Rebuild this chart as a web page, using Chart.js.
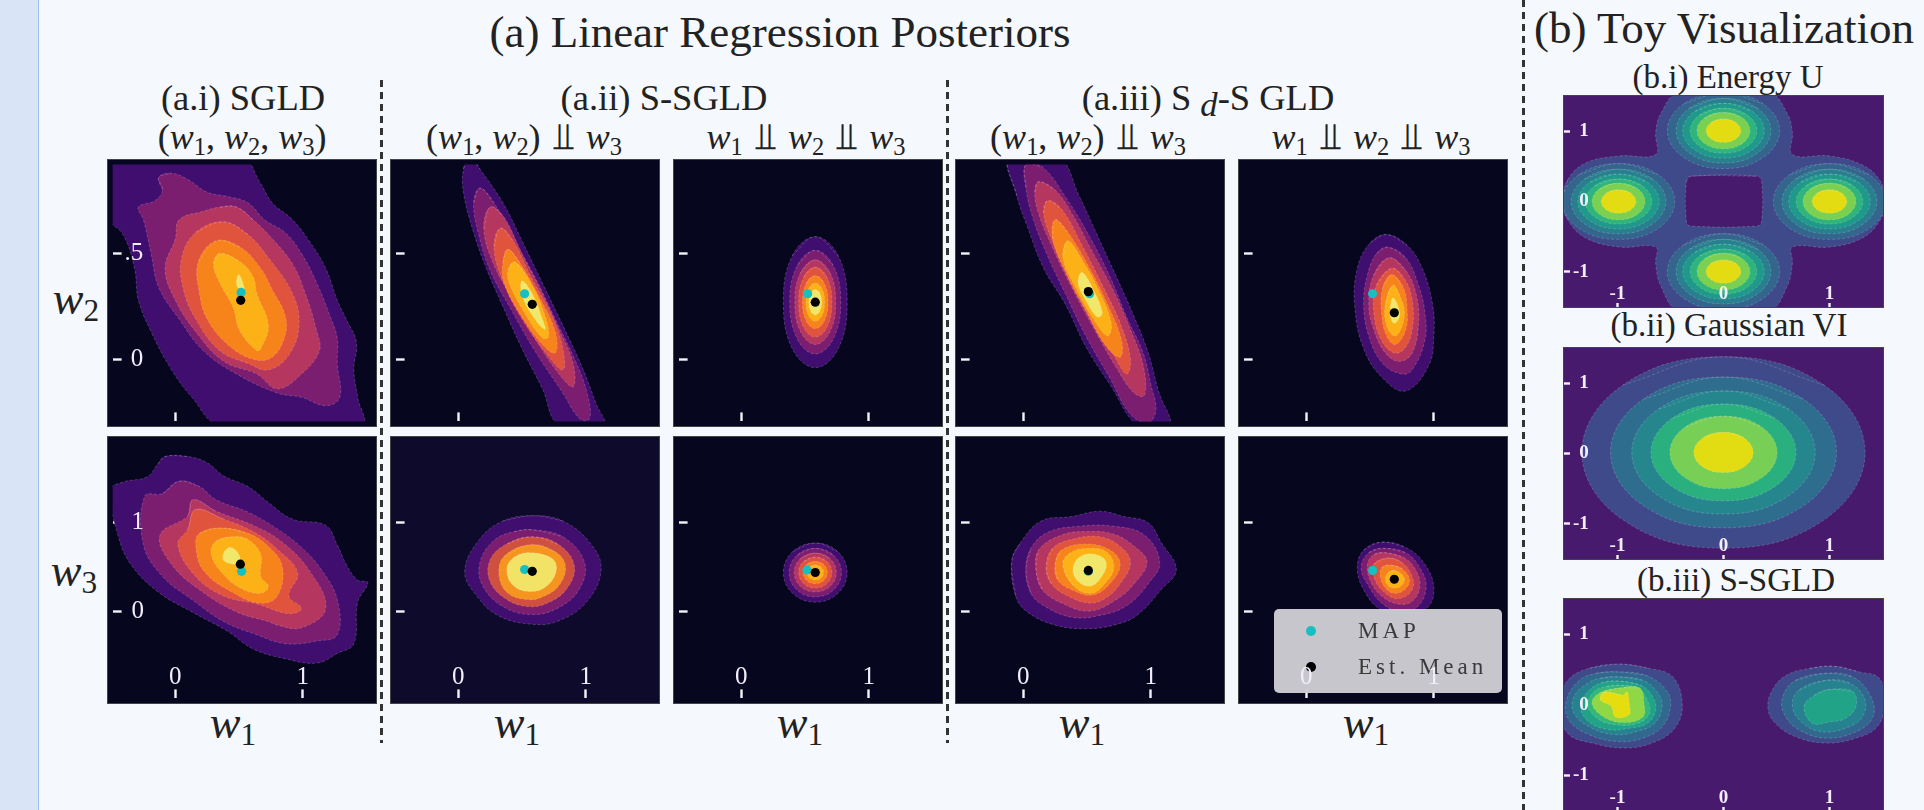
<!DOCTYPE html>
<html>
<head>
<meta charset="utf-8">
<title>Linear Regression Posteriors</title>
<script src="https://cdn.jsdelivr.net/npm/chart.js@4"></script>
<style>
html, body { margin: 0; padding: 0; width: 1924px; height: 810px; overflow: hidden; background: #f5f8fc; }
#strip { position: absolute; left: 0; top: 0; width: 38px; height: 810px; background: #d9e5f6; border-right: 1px solid #9bbcf0; }
canvas { position: absolute; box-shadow: 0 0 0 1px #444; }
.t { position: absolute; transform: translate(-50%, -50%); white-space: nowrap; color: #222; font-family: "Liberation Serif", serif; }
.t i { font-style: italic; }
.t sub { font-size: 0.68em; line-height: 0; vertical-align: -0.25em; }
.h1 { font-size: 45px; }
.h2 { font-size: 36.5px; }
.h3 { font-size: 36px; }
.h4 { font-size: 33px; }
.lab { font-size: 46px; }
.up { font-family: "DejaVu Sans", sans-serif; font-size: 1.05em; line-height: 0; margin: 0 0.08em; }
.t sub.idx { font-size: 0.95em; vertical-align: -0.2em; }
.vd { position: absolute; width: 3px; background: repeating-linear-gradient(to bottom, #333 0 7px, transparent 7px 12px); }
</style>
</head>
<body>
<div id="strip"></div>

<div class="t h1" style="left:780px;top:32px">(a) Linear Regression Posteriors</div>
<div class="t h1" style="left:1724px;top:28px">(b) Toy Visualization</div>

<div class="t h2" style="left:243px;top:97px">(a.i) SGLD</div>
<div class="t h3" style="left:242px;top:137px">(<i>w</i><sub>1</sub>, <i>w</i><sub>2</sub>, <i>w</i><sub>3</sub>)</div>
<div class="t h2" style="left:664px;top:97px">(a.ii) S-SGLD</div>
<div class="t h3" style="left:524px;top:137px">(<i>w</i><sub>1</sub>, <i>w</i><sub>2</sub>) <span class="up">⫫</span> <i>w</i><sub>3</sub></div>
<div class="t h3" style="left:806px;top:137px"><i>w</i><sub>1</sub> <span class="up">⫫</span> <i>w</i><sub>2</sub> <span class="up">⫫</span> <i>w</i><sub>3</sub></div>
<div class="t h2" style="left:1208px;top:97px">(a.iii) S <sub class="idx"><i>d</i></sub>-S GLD</div>
<div class="t h3" style="left:1088px;top:137px">(<i>w</i><sub>1</sub>, <i>w</i><sub>2</sub>) <span class="up">⫫</span> <i>w</i><sub>3</sub></div>
<div class="t h3" style="left:1371px;top:137px"><i>w</i><sub>1</sub> <span class="up">⫫</span> <i>w</i><sub>2</sub> <span class="up">⫫</span> <i>w</i><sub>3</sub></div>

<div class="t lab" style="left:76px;top:298px"><i>w</i><sub>2</sub></div>
<div class="t lab" style="left:74px;top:570px"><i>w</i><sub>3</sub></div>
<div class="t lab" style="left:233px;top:722px"><i>w</i><sub>1</sub></div>
<div class="t lab" style="left:517px;top:722px"><i>w</i><sub>1</sub></div>
<div class="t lab" style="left:800px;top:722px"><i>w</i><sub>1</sub></div>
<div class="t lab" style="left:1082px;top:722px"><i>w</i><sub>1</sub></div>
<div class="t lab" style="left:1366px;top:722px"><i>w</i><sub>1</sub></div>

<div class="t h4" style="left:1728px;top:77px">(b.i) Energy U</div>
<div class="t h4" style="left:1729px;top:325px">(b.ii) Gaussian VI</div>
<div class="t h4" style="left:1736px;top:580px">(b.iii) S-SGLD</div>

<div class="vd" style="left:380px;top:80px;height:663px"></div>
<div class="vd" style="left:946px;top:80px;height:663px"></div>
<div class="vd" style="left:1522px;top:0;height:810px"></div>

<script>
/**
 * Tick values and their labels.
 */
const posteriorXTicks = [0, 1];
const posteriorXLabels = ['0', '1'];
const topYTicks = [0, 0.5];
const topYLabels = ['0', '.5'];
const bottomYTicks = [0, 1];
const bottomYLabels = ['0', '1'];
const toyTicks = [-1, 0, 1];
const toyLabels = ['-1', '0', '1'];

/**
 * Legend entries.
 */
const seriesNames = ['MAP', 'Est. Mean'];

/**
 * Contour outlines, outermost level first, as [w1, w2] or [w1, w3] pairs.
 */
const sgldW2 = [
    [[-0.55,0.96],[0.51,0.96],[0.67,0.83],[0.76,0.74],[0.92,0.66],[1.05,0.56],[1.18,0.43],[1.27,0.28],[1.34,0.19],[1.42,0.08],[1.40,-0.05],[1.43,-0.18],[1.46,-0.31],[0.35,-0.31],[0.13,-0.18],[-0.03,-0.05],[-0.19,0.13],[-0.29,0.28],[-0.32,0.43],[-0.41,0.59],[-0.55,0.68]],
    [[-0.13,0.86],[-0.03,0.88],[0.10,0.85],[0.25,0.79],[0.41,0.77],[0.57,0.74],[0.70,0.66],[0.86,0.60],[0.99,0.50],[1.11,0.36],[1.21,0.21],[1.27,0.10],[1.27,-0.02],[1.29,-0.18],[1.18,-0.22],[0.99,-0.18],[0.80,-0.16],[0.48,-0.07],[0.22,0.04],[0.03,0.19],[-0.13,0.34],[-0.19,0.50],[-0.25,0.66],[-0.29,0.72],[-0.16,0.75],[-0.10,0.80]],
    [[0.48,0.72],[0.61,0.66],[0.73,0.59],[0.92,0.45],[1.02,0.31],[1.11,0.13],[1.13,0.04],[0.99,-0.07],[0.80,-0.14],[0.64,-0.07],[0.38,-0.01],[0.16,0.13],[0.00,0.28],[-0.08,0.43],[0.00,0.57],[0.03,0.66],[0.22,0.70],[0.35,0.72]],
    [[0.38,0.65],[0.57,0.59],[0.73,0.48],[0.92,0.31],[0.97,0.16],[0.89,0.02],[0.73,-0.05],[0.57,-0.02],[0.35,0.04],[0.16,0.19],[0.06,0.34],[0.05,0.48],[0.16,0.60]],
    [[0.32,0.56],[0.51,0.53],[0.67,0.43],[0.76,0.33],[0.86,0.21],[0.86,0.11],[0.76,0.01],[0.61,0.00],[0.41,0.07],[0.25,0.19],[0.19,0.31],[0.18,0.46]],
    [[0.35,0.50],[0.51,0.46],[0.61,0.39],[0.64,0.31],[0.73,0.16],[0.67,0.05],[0.64,0.04],[0.51,0.13],[0.45,0.25],[0.35,0.36],[0.30,0.45]],
    [[0.50,0.40],[0.54,0.33],[0.49,0.34],[0.48,0.37]]
];
const sgldW3 = [
    [[-0.08,1.75],[0.10,1.75],[0.25,1.68],[0.38,1.53],[0.57,1.41],[0.73,1.23],[0.92,1.04],[1.18,0.97],[1.27,0.75],[1.34,0.53],[1.43,0.35],[1.51,0.32],[1.43,0.10],[1.40,-0.37],[1.27,-0.48],[1.11,-0.59],[0.86,-0.54],[0.61,-0.43],[0.41,-0.23],[0.13,-0.01],[-0.13,0.21],[-0.35,0.53],[-0.45,0.86],[-0.51,1.37],[-0.41,1.46],[-0.22,1.52],[-0.14,1.66]],
    [[0.03,1.47],[0.19,1.41],[0.32,1.26],[0.57,1.12],[0.80,0.93],[0.99,0.72],[1.15,0.46],[1.27,0.13],[1.27,-0.27],[1.11,-0.34],[0.86,-0.37],[0.64,-0.27],[0.38,-0.12],[0.13,0.13],[-0.10,0.39],[-0.25,0.75],[-0.24,1.30],[-0.10,1.33]],
    [[0.14,1.26],[0.32,1.13],[0.61,0.97],[0.83,0.79],[1.05,0.46],[1.18,0.03],[0.99,-0.19],[0.80,-0.16],[0.73,-0.12],[0.48,-0.01],[0.19,0.24],[-0.03,0.53],[-0.12,0.86],[0.10,1.08]],
    [[0.16,1.15],[0.38,1.04],[0.61,0.90],[0.80,0.70],[0.96,0.43],[0.89,0.17],[0.99,0.03],[0.89,-0.03],[0.64,0.08],[0.38,0.17],[0.16,0.39],[0.02,0.75],[0.10,0.93]],
    [[0.35,0.94],[0.57,0.88],[0.73,0.73],[0.84,0.50],[0.80,0.17],[0.67,0.09],[0.45,0.21],[0.22,0.46],[0.16,0.75],[0.19,0.88]],
    [[0.45,0.84],[0.57,0.81],[0.67,0.64],[0.67,0.39],[0.73,0.28],[0.67,0.20],[0.51,0.26],[0.35,0.46],[0.28,0.66],[0.32,0.79]],
    [[0.43,0.72],[0.49,0.66],[0.51,0.57],[0.48,0.53],[0.38,0.57],[0.38,0.66]]
];
const ssgldPairW2 = [
    [[0.09,0.96],[0.17,0.90],[0.35,0.74],[0.50,0.56],[0.66,0.36],[0.82,0.16],[0.98,-0.05],[1.08,-0.21],[1.14,-0.31],[0.79,-0.31],[0.66,-0.14],[0.50,0.05],[0.35,0.25],[0.22,0.43],[0.12,0.60],[0.04,0.79],[0.04,0.90]],
    [[0.17,0.81],[0.28,0.74],[0.44,0.56],[0.60,0.39],[0.76,0.19],[0.92,-0.01],[1.01,-0.16],[1.03,-0.28],[0.95,-0.28],[0.82,-0.16],[0.60,0.04],[0.41,0.24],[0.25,0.42],[0.16,0.59],[0.12,0.74]],
    [[0.25,0.72],[0.35,0.68],[0.50,0.50],[0.66,0.31],[0.79,0.14],[0.90,-0.02],[0.90,-0.13],[0.79,-0.07],[0.60,0.10],[0.41,0.30],[0.27,0.46],[0.20,0.62]],
    [[0.33,0.62],[0.43,0.56],[0.57,0.39],[0.73,0.21],[0.82,0.05],[0.82,-0.05],[0.70,0.02],[0.50,0.19],[0.35,0.37],[0.28,0.53]],
    [[0.39,0.52],[0.49,0.45],[0.63,0.30],[0.76,0.13],[0.76,0.03],[0.66,0.07],[0.49,0.21],[0.36,0.36],[0.35,0.46]],
    [[0.44,0.46],[0.54,0.39],[0.66,0.24],[0.71,0.11],[0.66,0.10],[0.50,0.24],[0.40,0.36],[0.39,0.42]],
    [[0.50,0.37],[0.58,0.31],[0.66,0.19],[0.68,0.14],[0.60,0.19],[0.50,0.30]]
];
const ssgldPairW3 = [
    [[0.59,1.08],[0.82,1.02],[1.04,0.76],[1.12,0.47],[1.01,0.11],[0.79,-0.11],[0.58,-0.15],[0.31,-0.05],[0.14,0.18],[0.05,0.45],[0.16,0.80],[0.35,1.02]],
    [[0.58,0.92],[0.82,0.84],[0.99,0.55],[0.95,0.25],[0.79,0.04],[0.58,-0.04],[0.35,0.05],[0.19,0.29],[0.17,0.55],[0.28,0.80],[0.44,0.90]],
    [[0.58,0.84],[0.79,0.75],[0.91,0.51],[0.85,0.25],[0.70,0.09],[0.55,0.05],[0.38,0.13],[0.25,0.33],[0.25,0.58],[0.38,0.76]],
    [[0.57,0.75],[0.76,0.67],[0.84,0.51],[0.79,0.29],[0.66,0.16],[0.54,0.13],[0.39,0.20],[0.32,0.40],[0.36,0.62]],
    [[0.55,0.66],[0.73,0.60],[0.77,0.47],[0.70,0.29],[0.57,0.22],[0.43,0.29],[0.38,0.47],[0.43,0.60]]
];
const ssgldFullW2 = [
    [[0.58,0.58],[0.76,0.49],[0.83,0.27],[0.76,0.05],[0.58,-0.04],[0.40,0.05],[0.33,0.27],[0.40,0.49]],
    [[0.58,0.515],[0.72,0.445],[0.78,0.27],[0.72,0.095],[0.58,0.025],[0.44,0.095],[0.38,0.27],[0.44,0.445]],
    [[0.58,0.47],[0.695,0.41],[0.74,0.27],[0.695,0.13],[0.58,0.07],[0.465,0.13],[0.42,0.27],[0.465,0.41]],
    [[0.58,0.435],[0.67,0.39],[0.71,0.27],[0.67,0.15],[0.58,0.105],[0.49,0.15],[0.45,0.27],[0.49,0.39]],
    [[0.58,0.395],[0.65,0.36],[0.68,0.27],[0.65,0.18],[0.58,0.145],[0.51,0.18],[0.48,0.27],[0.51,0.36]],
    [[0.58,0.36],[0.632,0.334],[0.653,0.27],[0.632,0.206],[0.58,0.18],[0.528,0.206],[0.507,0.27],[0.528,0.334]],
    [[0.58,0.33],[0.615,0.313],[0.63,0.27],[0.615,0.227],[0.58,0.21],[0.545,0.227],[0.53,0.27],[0.545,0.313]]
];
const ssgldFullW3 = [
    [[0.58,0.77],[0.757,0.673],[0.83,0.436],[0.757,0.2],[0.58,0.10],[0.403,0.2],[0.33,0.436],[0.403,0.673]],
    [[0.58,0.71],[0.725,0.63],[0.785,0.436],[0.725,0.24],[0.58,0.16],[0.435,0.24],[0.375,0.436],[0.435,0.63]],
    [[0.58,0.656],[0.697,0.592],[0.745,0.436],[0.697,0.28],[0.58,0.216],[0.463,0.28],[0.415,0.436],[0.463,0.592]],
    [[0.58,0.61],[0.672,0.56],[0.71,0.436],[0.672,0.312],[0.58,0.26],[0.488,0.312],[0.45,0.436],[0.488,0.56]],
    [[0.58,0.56],[0.647,0.526],[0.675,0.436],[0.647,0.346],[0.58,0.31],[0.513,0.346],[0.485,0.436],[0.513,0.526]],
    [[0.58,0.52],[0.626,0.496],[0.645,0.436],[0.626,0.376],[0.58,0.35],[0.534,0.376],[0.515,0.436],[0.534,0.496]]
];
const sdPairW2 = [
    [[-0.11,0.96],[0.27,0.96],[0.44,0.77],[0.57,0.60],[0.73,0.39],[0.87,0.20],[0.98,0.03],[1.06,-0.15],[1.15,-0.32],[0.91,-0.32],[0.68,-0.12],[0.49,0.06],[0.33,0.26],[0.16,0.43],[0.03,0.63],[-0.05,0.77]],
    [[0.02,0.92],[0.15,0.91],[0.35,0.75],[0.52,0.58],[0.68,0.39],[0.81,0.20],[0.94,0.03],[1.00,-0.12],[1.04,-0.24],[0.98,-0.30],[0.84,-0.26],[0.68,-0.09],[0.49,0.11],[0.33,0.31],[0.19,0.49],[0.08,0.66],[0.02,0.81]],
    [[0.12,0.84],[0.25,0.80],[0.38,0.69],[0.54,0.51],[0.71,0.32],[0.84,0.14],[0.94,-0.03],[0.95,-0.17],[0.87,-0.16],[0.73,-0.04],[0.54,0.16],[0.38,0.34],[0.22,0.54],[0.12,0.69],[0.09,0.79]],
    [[0.19,0.75],[0.30,0.71],[0.46,0.54],[0.62,0.35],[0.76,0.17],[0.84,0.00],[0.81,-0.07],[0.71,0.02],[0.52,0.22],[0.35,0.40],[0.22,0.57],[0.16,0.69]],
    [[0.25,0.66],[0.35,0.60],[0.52,0.43],[0.66,0.26],[0.77,0.09],[0.76,0.01],[0.65,0.06],[0.49,0.23],[0.34,0.40],[0.23,0.57]],
    [[0.35,0.56],[0.45,0.48],[0.58,0.34],[0.69,0.17],[0.66,0.11],[0.54,0.20],[0.41,0.34],[0.31,0.48]],
    [[0.46,0.41],[0.54,0.34],[0.62,0.22],[0.58,0.20],[0.48,0.29],[0.43,0.36]]
];
const sdPairW3 = [
    [[-0.09,0.57],[-0.02,0.78],[0.14,1.02],[0.38,1.07],[0.60,1.13],[0.79,1.07],[0.98,1.00],[1.08,0.78],[1.20,0.47],[1.08,0.24],[0.89,-0.05],[0.71,-0.16],[0.49,-0.20],[0.25,-0.16],[0.03,-0.01],[-0.06,0.17]],
    [[0.02,0.46],[0.06,0.71],[0.19,0.89],[0.44,0.96],[0.71,0.96],[0.95,0.86],[1.07,0.55],[0.98,0.31],[0.81,0.06],[0.60,-0.05],[0.38,-0.07],[0.16,0.06],[0.06,0.20]],
    [[0.10,0.46],[0.12,0.69],[0.30,0.86],[0.49,0.90],[0.71,0.87],[0.89,0.71],[0.97,0.55],[0.87,0.31],[0.73,0.13],[0.52,0.00],[0.30,0.09],[0.15,0.24]],
    [[0.18,0.49],[0.23,0.71],[0.41,0.82],[0.60,0.84],[0.76,0.73],[0.84,0.55],[0.76,0.31],[0.65,0.15],[0.52,0.09],[0.35,0.17],[0.22,0.31]],
    [[0.25,0.53],[0.30,0.69],[0.49,0.76],[0.68,0.69],[0.76,0.53],[0.68,0.31],[0.54,0.18],[0.38,0.24],[0.27,0.35]],
    [[0.31,0.53],[0.37,0.66],[0.53,0.71],[0.66,0.66],[0.71,0.49],[0.64,0.31],[0.53,0.20],[0.39,0.29]],
    [[0.39,0.49],[0.45,0.62],[0.57,0.64],[0.65,0.55],[0.61,0.38],[0.52,0.28],[0.42,0.35]]
];
const sdFullW2 = [
    [[0.63,0.59],[0.79,0.54],[0.91,0.43],[0.99,0.26],[1.00,0.11],[0.96,-0.03],[0.78,-0.15],[0.60,-0.09],[0.45,0.05],[0.38,0.25],[0.40,0.43],[0.50,0.55]],
    [[0.64,0.53],[0.78,0.48],[0.88,0.35],[0.93,0.22],[0.93,0.09],[0.83,-0.05],[0.75,-0.07],[0.60,-0.02],[0.49,0.11],[0.45,0.26],[0.48,0.40],[0.55,0.50]],
    [[0.65,0.48],[0.78,0.42],[0.86,0.31],[0.88,0.17],[0.83,0.03],[0.73,-0.01],[0.62,0.03],[0.53,0.14],[0.49,0.26],[0.53,0.40]],
    [[0.67,0.43],[0.77,0.38],[0.83,0.28],[0.83,0.14],[0.77,0.05],[0.69,0.03],[0.59,0.09],[0.53,0.22],[0.55,0.35]],
    [[0.67,0.40],[0.76,0.34],[0.79,0.24],[0.78,0.14],[0.70,0.07],[0.63,0.11],[0.59,0.22],[0.60,0.34]],
    [[0.68,0.35],[0.74,0.29],[0.77,0.22],[0.74,0.14],[0.69,0.11],[0.63,0.16],[0.62,0.26]],
    [[0.68,0.29],[0.72,0.25],[0.73,0.20],[0.69,0.17],[0.66,0.20],[0.66,0.25]]
];
const sdFullW3 = [
    [[0.59,0.78],[0.78,0.72],[0.93,0.53],[1.00,0.26],[0.95,0.04],[0.78,-0.03],[0.58,0.02],[0.45,0.24],[0.40,0.49],[0.45,0.69]],
    [[0.60,0.71],[0.78,0.66],[0.89,0.49],[0.94,0.28],[0.88,0.06],[0.75,-0.01],[0.60,0.08],[0.49,0.28],[0.43,0.49],[0.49,0.66]],
    [[0.62,0.66],[0.77,0.60],[0.86,0.46],[0.89,0.28],[0.83,0.11],[0.72,0.08],[0.59,0.17],[0.50,0.35],[0.48,0.53],[0.53,0.64]],
    [[0.64,0.60],[0.75,0.55],[0.83,0.39],[0.83,0.24],[0.73,0.14],[0.63,0.19],[0.54,0.35],[0.53,0.53]],
    [[0.65,0.52],[0.75,0.48],[0.81,0.35],[0.77,0.24],[0.69,0.20],[0.62,0.26],[0.58,0.39],[0.59,0.49]],
    [[0.69,0.46],[0.75,0.41],[0.77,0.35],[0.74,0.28],[0.69,0.26],[0.64,0.29],[0.62,0.37],[0.64,0.43]]
];

/**
 * MAP and estimated mean for each posterior panel, [w1, w].
 */
const mapPoints = [[0.516,0.316],[0.52,0.31],[0.52,0.31],[0.52,0.31],[0.52,0.31],[0.52,0.45],[0.52,0.47],[0.515,0.465],[0.51,0.45],[0.52,0.46]];
const meanPoints = [[0.513,0.279],[0.58,0.26],[0.58,0.27],[0.51,0.32],[0.69,0.22],[0.51,0.53],[0.58,0.45],[0.58,0.436],[0.51,0.46],[0.69,0.36]];

/**
 * Toy energy: merged outline, central hole, then the rings of one lobe around its centre.
 */
const energyOutline = [[-1.52,0.00],[-1.47,-0.26],[-1.30,-0.52],[-0.98,-0.65],[-0.64,-0.65],[-0.64,-0.88],[-0.59,-1.21],[-0.42,-1.55],[0.43,-1.55],[0.60,-1.21],[0.65,-0.88],[0.65,-0.65],[1.00,-0.65],[1.31,-0.52],[1.48,-0.26],[1.52,0.00],[1.48,0.29],[1.31,0.52],[1.00,0.65],[0.65,0.67],[0.65,0.98],[0.60,1.26],[0.43,1.55],[-0.42,1.55],[-0.59,1.26],[-0.64,0.98],[-0.64,0.67],[-0.98,0.65],[-1.30,0.55],[-1.47,0.31]];
const energyHole = [[-0.31,0.36],[0.32,0.36],[0.36,0.29],[0.36,-0.29],[0.32,-0.35],[-0.31,-0.35],[-0.35,-0.29],[-0.35,0.29]];
const lobeCenters = [[0,1.01],[0,-1.0],[-0.99,0],[1.0,0]];
const lobeRings = [
    [[0,0.54],[0.375,0.382],[0.53,0],[0.375,-0.382],[0,-0.54],[-0.375,-0.382],[-0.53,0],[-0.375,0.382]],
    [[0,0.46],[0.316,0.325],[0.447,0],[0.316,-0.325],[0,-0.46],[-0.316,-0.325],[-0.447,0],[-0.316,0.325]],
    [[0,0.39],[0.27,0.276],[0.384,0],[0.27,-0.276],[0,-0.39],[-0.27,-0.276],[-0.384,0],[-0.27,0.276]],
    [[0,0.32],[0.222,0.226],[0.314,0],[0.222,-0.226],[0,-0.32],[-0.222,-0.226],[-0.314,0],[-0.222,0.226]],
    [[0,0.26],[0.177,0.184],[0.25,0],[0.177,-0.184],[0,-0.26],[-0.177,-0.184],[-0.25,0],[-0.177,0.184]],
    [[0,0.167],[0.116,0.118],[0.164,0],[0.116,-0.118],[0,-0.167],[-0.116,-0.118],[-0.164,0],[-0.116,0.118]]
];

const gaussianVi = [
    [[0,1.38],[0.945,0.98],[1.336,0.015],[0.945,-0.95],[0,-1.35],[-0.945,-0.95],[-1.336,0.015],[-0.945,0.98]],
    [[0,1.09],[0.754,0.776],[1.066,0.015],[0.754,-0.746],[0,-1.06],[-0.754,-0.746],[-1.066,0.015],[-0.754,0.776]],
    [[0,0.892],[0.612,0.635],[0.865,0.015],[0.612,-0.605],[0,-0.862],[-0.612,-0.605],[-0.865,0.015],[-0.612,0.635]],
    [[0,0.705],[0.484,0.503],[0.684,0.015],[0.484,-0.473],[0,-0.675],[-0.484,-0.473],[-0.684,0.015],[-0.484,0.503]],
    [[0,0.532],[0.358,0.381],[0.506,0.015],[0.358,-0.351],[0,-0.502],[-0.358,-0.351],[-0.506,0.015],[-0.358,0.381]],
    [[0,0.302],[0.198,0.218],[0.28,0.015],[0.198,-0.188],[0,-0.272],[-0.198,-0.188],[-0.28,0.015],[-0.198,0.218]]
];

const toySgldLeft = [
    [[-0.98,0.58],[-0.70,0.52],[-0.48,0.40],[-0.39,0.02],[-0.45,-0.31],[-0.64,-0.52],[-0.92,-0.61],[-1.24,-0.54],[-1.47,-0.40],[-1.55,0.00],[-1.47,0.35],[-1.27,0.52]],
    [[-1.00,0.47],[-0.73,0.42],[-0.54,0.21],[-0.50,-0.02],[-0.58,-0.31],[-0.76,-0.47],[-0.98,-0.52],[-1.27,-0.42],[-1.46,-0.21],[-1.48,0.07],[-1.36,0.35],[-1.20,0.45]],
    [[-1.00,0.40],[-0.76,0.35],[-0.62,0.17],[-0.58,-0.02],[-0.65,-0.26],[-0.83,-0.38],[-1.02,-0.42],[-1.24,-0.33],[-1.41,-0.12],[-1.41,0.12],[-1.28,0.31],[-1.16,0.38]],
    [[-1.00,0.34],[-0.78,0.28],[-0.67,0.12],[-0.64,-0.07],[-0.72,-0.26],[-0.89,-0.33],[-1.08,-0.35],[-1.27,-0.24],[-1.35,-0.02],[-1.28,0.19],[-1.16,0.31]],
    [[-0.98,0.28],[-0.81,0.24],[-0.72,0.07],[-0.70,-0.12],[-0.81,-0.26],[-1.02,-0.28],[-1.19,-0.19],[-1.28,0.00],[-1.22,0.19],[-1.11,0.26]],
    [[-0.98,0.24],[-0.79,0.24],[-0.75,0.02],[-0.76,-0.17],[-0.94,-0.25],[-1.13,-0.17],[-1.24,0.02],[-1.17,0.17]],
    [[-1.13,0.18],[-0.95,0.14],[-0.91,0.19],[-0.89,0.02],[-0.89,-0.14],[-1.02,-0.17],[-1.06,-0.02],[-1.16,0.07]]
];
const toySgldRight = [
    [[1.04,0.55],[1.28,0.47],[1.47,0.38],[1.52,0.02],[1.45,-0.31],[1.25,-0.47],[0.97,-0.54],[0.68,-0.45],[0.49,-0.26],[0.42,-0.05],[0.46,0.21],[0.59,0.42],[0.81,0.52]],
    [[0.97,0.45],[1.22,0.40],[1.39,0.12],[1.41,-0.17],[1.25,-0.38],[0.97,-0.47],[0.71,-0.35],[0.57,-0.12],[0.56,0.12],[0.68,0.35]],
    [[0.97,0.35],[1.19,0.31],[1.33,0.09],[1.31,-0.17],[1.15,-0.33],[0.93,-0.38],[0.75,-0.26],[0.65,-0.02],[0.71,0.21]],
    [[1.00,0.22],[1.22,0.19],[1.25,-0.02],[1.15,-0.19],[1.00,-0.24],[0.84,-0.26],[0.76,-0.02],[0.86,0.14]]
];

/**
 * Colours of the filled levels.
 */
const inferno = ['#3f0e6e', '#7b1e6f', '#b5365f', '#e0533c', '#f6841b', '#fcb216', '#f1e76b'];
const infernoFive = ['#3f0e6e', '#7b1e6f', '#d0503f', '#f5941e', '#f2e265'];
const viridisBg = '#471a6e';
const energyShades = ['#33658d', '#28808e', '#1f9a8a', '#2fb47c', '#7ad151', '#e3dc12'];
const viShades = ['#3e4a89', '#2f6d8e', '#25868e', '#2ab07f', '#78cf55', '#e2dc12'];
const toyLeftShades = ['#3e4a89', '#31688e', '#26828e', '#20a386', '#35b779', '#8fd744', '#e5dd10'];
const toyRightShades = ['#3e4a89', '#31688e', '#26828e', '#20a386'];

const contourDataset = (points, color, order) => ({
    // повторяем точки, чтобы кривая замкнулась без излома
    data: [points[points.length - 1], ...points, points[0], points[1]].map(([x, y]) => ({ x, y })),
    showLine: true,
    fill: 'shape',
    backgroundColor: color,
    borderColor: 'rgba(255, 235, 255, 0.25)',
    borderWidth: 0.8,
    borderDash: [3, 2],
    tension: 0.4,
    capBezierPoints: false,
    pointRadius: 0,
    order
});

const levelDatasets = (levels, shades) => levels.map((points, i) => contourDataset(points, shades[i], 100 - i));

const markerDataset = (point, color, order) => ({
    data: [{ x: point[0], y: point[1] }],
    pointRadius: 4.6,
    pointBackgroundColor: color,
    pointBorderWidth: 0,
    showLine: false,
    order
});

const MAP_COLOR = '#17bfc0';
const MEAN_COLOR = '#000000';

const posteriorDatasets = (levels, shades, i) => [
    ...levelDatasets(levels, shades),
    markerDataset(mapPoints[i], MAP_COLOR, 2),
    markerDataset(meanPoints[i], MEAN_COLOR, 1)
];

const energyDatasets = () => {
    const sets = [contourDataset(energyOutline, '#3e4a89', 100), contourDataset(energyHole, viridisBg, 99)];
    lobeCenters.forEach(([cx, cy]) => {
        lobeRings.forEach((ring, r) => {
            const moved = ring.map(([dx, dy]) => [cx + dx, cy + dy]);
            sets.push(contourDataset(moved, energyShades[r], 90 - r));
        });
    });
    return sets;
};

/**
 * Легенда лежит поверх контуров, но под подписями осей, поэтому рисуем её плагином.
 */
const legendBox = {
    id: 'legendBox',
    afterDatasetsDraw(chart) {
        const { ctx } = chart;
        ctx.save();
        ctx.fillStyle = 'rgba(204, 204, 210, 0.97)';
        ctx.beginPath();
        ctx.roundRect(35, 172, 228, 84, 5);
        ctx.fill();
        [MAP_COLOR, MEAN_COLOR].forEach((color, i) => {
            const y = 194 + i * 36;
            ctx.fillStyle = color;
            ctx.beginPath();
            ctx.arc(72, y, 5, 0, Math.PI * 2);
            ctx.fill();
            ctx.fillStyle = '#3a3a3a';
            ctx.font = '23px "Liberation Serif"';
            ctx.letterSpacing = '4px';
            ctx.textBaseline = 'middle';
            ctx.fillText(seriesNames[i], 119, y + 1);
        });
        ctx.restore();
    }
};

const makeAxis = ({ range, values, labels, padding, size, horizontal, showLabels, tickLength, weight }) => ({
    type: 'linear',
    min: range[0],
    max: range[1],
    position: horizontal ? 'bottom' : 'left',
    border: { display: false },
    grid: { drawOnChartArea: false, drawTicks: true, tickLength: -tickLength, tickWidth: 2.4, tickColor: '#f4f4f8' },
    ticks: {
        display: showLabels,
        z: 1,
        mirror: true,
        crossAlign: horizontal ? 'near' : 'far',
        padding,
        color: '#f4eefc',
        autoSkip: false,
        maxRotation: 0,
        minRotation: 0,
        font: { family: '"Liberation Serif"', size, weight },
        callback: (value) => labels[values.indexOf(value)]
    },
    afterBuildTicks: (axis) => { axis.ticks = values.map((value) => ({ value })); },
    afterFit: (axis) => {
        if (horizontal) axis.height = 0; else axis.width = 0;
        axis.paddingLeft = axis.paddingRight = axis.paddingTop = axis.paddingBottom = 0;
    }
});

const addPanel = (cfg) => {
    const canvas = document.createElement('canvas');
    canvas.width = cfg.rect[2];
    canvas.height = cfg.rect[3];
    canvas.style.left = cfg.rect[0] + 'px';
    canvas.style.top = cfg.rect[1] + 'px';
    canvas.style.background = cfg.background;
    document.body.appendChild(canvas);

    new Chart(canvas.getContext('2d'), {
        type: 'scatter',
        data: { datasets: cfg.datasets },
        plugins: cfg.plugins || [],
        options: {
            responsive: false,
            animation: false,
            devicePixelRatio: 1,
            layout: { padding: 0 },
            plugins: { legend: { display: false }, tooltip: { enabled: false } },
            scales: { x: cfg.x, y: cfg.y }
        }
    });
};

const onDOMLoaded = () => {
    const DARK = '#07061f';
    const columns = [108, 391, 674, 956, 1239];
    const posteriorX = [-0.492, 1.538];
    const topY = [-0.294, 0.921];
    const bottomY = [-0.99, 1.919];

    const topLevels = [sgldW2, ssgldPairW2, ssgldFullW2, sdPairW2, sdFullW2];
    const bottomLevels = [sgldW3, ssgldPairW3, ssgldFullW3, sdPairW3, sdFullW3];

    const xAxis = (showLabels) => makeAxis({ range: posteriorX, values: posteriorXTicks, labels: posteriorXLabels, padding: 6, size: 25, horizontal: true, showLabels, tickLength: 9 });

    columns.forEach((left, c) => {
        addPanel({
            rect: [left, 160, 268, 266],
            background: DARK,
            datasets: posteriorDatasets(topLevels[c], inferno, c),
            x: xAxis(false),
            y: makeAxis({ range: topY, values: topYTicks, labels: topYLabels, padding: 12, size: 25, horizontal: false, showLabels: c === 0, tickLength: 9 })
        });
        addPanel({
            rect: [left, 437, 268, 266],
            background: c === 1 ? '#0e0a2b' : DARK,
            datasets: posteriorDatasets(bottomLevels[c], c === 1 ? infernoFive : inferno, c + 5),
            plugins: c === 4 ? [legendBox] : [],
            x: xAxis(true),
            y: makeAxis({ range: bottomY, values: bottomYTicks, labels: bottomYLabels, padding: 19, size: 25, horizontal: false, showLabels: c === 0, tickLength: 9 })
        });
    });

    const toyRange = [-1.505, 1.505];
    const toyX = () => makeAxis({ range: toyRange, values: toyTicks, labels: toyLabels, padding: 2, size: 19, weight: 'bold', horizontal: true, showLabels: true, tickLength: 4 });
    const toyY = () => makeAxis({ range: toyRange, values: toyTicks, labels: toyLabels, padding: 9, size: 19, weight: 'bold', horizontal: false, showLabels: true, tickLength: 6 });

    addPanel({ rect: [1564, 96, 319, 211], background: viridisBg, datasets: energyDatasets(), x: toyX(), y: toyY() });
    addPanel({ rect: [1564, 348, 319, 211], background: viridisBg, datasets: levelDatasets(gaussianVi, viShades), x: toyX(), y: toyY() });
    addPanel({
        rect: [1564, 599, 319, 212],
        background: viridisBg,
        datasets: [...levelDatasets(toySgldLeft, toyLeftShades), ...levelDatasets(toySgldRight, toyRightShades)],
        x: toyX(),
        y: toyY()
    });
};

document.addEventListener('DOMContentLoaded', onDOMLoaded);
</script>
</body>
</html>
